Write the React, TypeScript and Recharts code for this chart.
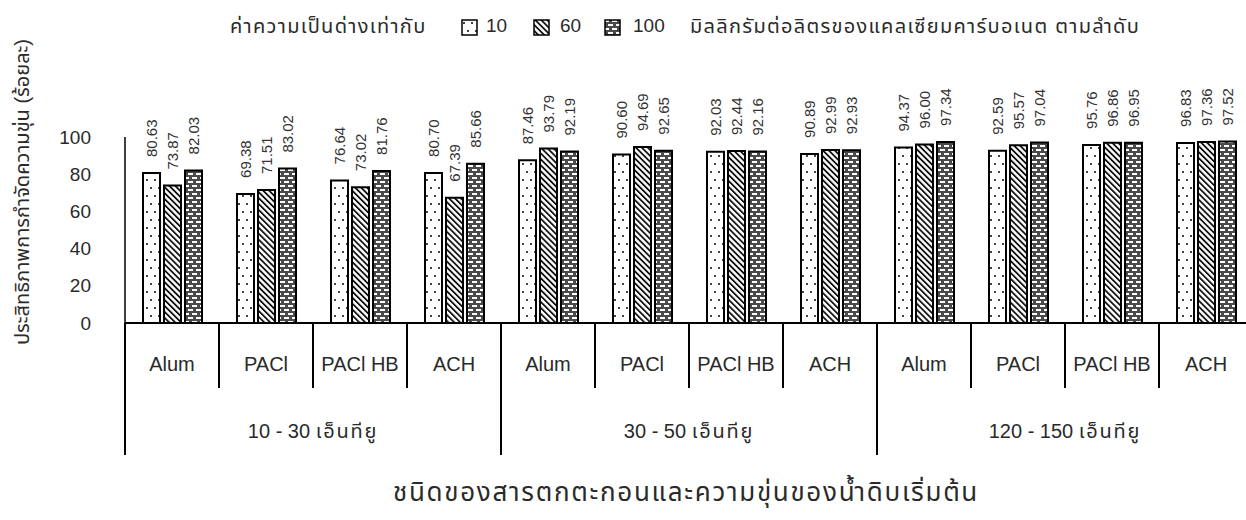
import { BarChart, Bar, XAxis, YAxis, LabelList } from "recharts";

const categories = [
  "Alum", "PACl", "PACl HB", "ACH",
  "Alum", "PACl", "PACl HB", "ACH",
  "Alum", "PACl", "PACl HB", "ACH",
];
const groupRanges = ["10 - 30", "30 - 50", "120 - 150"];
const groupUnit = "เอ็นทียู";
const alk10 = [80.63, 69.38, 76.64, 80.7, 87.46, 90.6, 92.03, 90.89, 94.37, 92.59, 95.76, 96.83];
const alk60 = [73.87, 71.51, 73.02, 67.39, 93.79, 94.69, 92.44, 92.99, 96.0, 95.57, 96.86, 97.36];
const alk100 = [82.03, 83.02, 81.76, 85.66, 92.19, 92.65, 92.16, 92.93, 97.34, 97.04, 96.95, 97.52];
const yTicks = [0, 20, 40, 60, 80, 100];

const data = categories.map((name, i) => ({
  name,
  group: groupRanges[Math.floor(i / 4)],
  a10: alk10[i],
  a60: alk60[i],
  a100: alk100[i],
}));

const FONT = "'Liberation Sans', Arial, 'Noto Sans Thai', sans-serif";
const INK = "#2a2a2a";

function CategoryTick(props: any) {
  const { x, y, payload } = props;
  const half = payload.offset || 47;
  const idx = payload.index ?? props.index;
  const left = x - half;
  const groupStart = idx % 4 === 0;
  return (
    <g>
      <line x1={left} y1={y} x2={left} y2={y + (groupStart ? 132 : 65)} stroke="#000" strokeWidth={2} />
      <text x={x} y={y + 41} textAnchor="middle" dominantBaseline="central" fontSize={20} fill={INK} fontFamily={FONT}>
        {payload.value}
      </text>
      {groupStart && (
        <text x={left + half * 4} y={y + 108} textAnchor="middle" dominantBaseline="central" fontSize={20} fill={INK} fontFamily={FONT}>
          {data[idx].group + " "}
          <tspan letterSpacing={1.8}>{groupUnit}</tspan>
        </text>
      )}
    </g>
  );
}

function ValueTick(props: any) {
  const { x, y, payload } = props;
  return (
    <text x={x} y={y} textAnchor="end" dominantBaseline="central" fontSize={19} fill={INK} fontFamily={FONT}>
      {payload.value}
    </text>
  );
}

function ValueLabel(props: any) {
  const { x, y, width, value } = props;
  const cx = x + width / 2;
  const ty = y - 16;
  return (
    <text x={cx} y={ty} transform={`rotate(-90 ${cx} ${ty})`} dominantBaseline="central" fontSize={15} fill="#333" fontFamily={FONT}>
      {Number(value).toFixed(2)}
    </text>
  );
}

function Swatch({ fill }: { fill: string }) {
  return (
    <svg width={17} height={17} style={{ display: "block" }}>
      <rect x={1} y={1} width={15} height={15} fill={fill} stroke="#000" strokeWidth={1.5} />
    </svg>
  );
}

const legendItems = [
  { label: "10", fill: "url(#pDots)", box: 461, text: 486 },
  { label: "60", fill: "url(#pDiag)", box: 533, text: 560 },
  { label: "100", fill: "url(#pBrick)", box: 604, text: 633 },
];

export default function App() {
  return (
    <div style={{ position: "absolute", left: 0, top: 0, width: 1246, height: 520, overflow: "hidden", background: "#fff", fontFamily: FONT }}>
      <svg width={0} height={0} style={{ position: "absolute" }}>
        <defs>
          <pattern id="pDots" width="8" height="16" patternUnits="userSpaceOnUse">
            <rect width="8" height="16" fill="#fff" />
            <rect x="2" y="3" width="2" height="2" fill="#444" />
            <rect x="6" y="11" width="2" height="2" fill="#444" />
          </pattern>
          <pattern id="pDiag" width="4.2" height="4.2" patternUnits="userSpaceOnUse" patternTransform="rotate(-45)">
            <rect width="4.2" height="4.2" fill="#fff" />
            <rect x="0" y="0" width="1.8" height="4.2" fill="#111" />
          </pattern>
          <pattern id="pBrick" width="8" height="8" patternUnits="userSpaceOnUse">
            <rect width="8" height="8" fill="#4a4a4a" />
            <rect x="0" y="1" width="5" height="2" fill="#fff" />
            <rect x="4" y="5" width="4" height="2" fill="#fff" />
            <rect x="0" y="5" width="1" height="2" fill="#fff" />
          </pattern>
        </defs>
      </svg>

      <div style={{ position: "absolute", top: 0, left: 0, width: 1246, height: 50, fontSize: 19, color: INK }}>
        <span style={{ position: "absolute", left: 230, top: 14, lineHeight: "24px", fontSize: 20, letterSpacing: 1.3 }}>
          ค่าความเป็นด่างเท่ากับ
        </span>
        {legendItems.map((it) => (
          <div key={it.label}>
            <div style={{ position: "absolute", left: it.box, top: 19 }}>
              <Swatch fill={it.fill} />
            </div>
            <span style={{ position: "absolute", left: it.text, top: 14, lineHeight: "24px" }}>{it.label}</span>
          </div>
        ))}
        <span style={{ position: "absolute", left: 690, top: 14, lineHeight: "24px", fontSize: 20, letterSpacing: 1.3 }}>
          มิลลิกรัมต่อลิตรของแคลเซียมคาร์บอเนต ตามลำดับ
        </span>
      </div>

      <BarChart
        width={1260}
        height={520}
        data={data}
        margin={{ top: 137, right: 7, bottom: 47, left: 65 }}
        barSize={17}
        barGap={4}
      >
        <XAxis
          dataKey="name"
          interval={0}
          height={150}
          tickLine={false}
          tickSize={0}
          tickMargin={0}
          axisLine={{ stroke: "#000", strokeWidth: 2 }}
          tick={<CategoryTick />}
          label={{
            content: () => (
              <text x={686} y={492} textAnchor="middle" dominantBaseline="central" fontSize={26} letterSpacing={1.7} fill={INK} fontFamily={FONT}>
                ชนิดของสารตกตะกอนและความขุ่นของน้ำดิบเริ่มต้น
              </text>
            ),
          }}
        />
        <YAxis
          domain={[0, 100]}
          ticks={yTicks}
          width={60}
          tickLine={false}
          tickSize={0}
          tickMargin={34}
          axisLine={{ stroke: "#000", strokeWidth: 1.5 }}
          tick={<ValueTick />}
          label={{
            content: () => (
              <text x={22} y={192} transform="rotate(-90 22 192)" textAnchor="middle" dominantBaseline="central" fontSize={20} fill={INK} fontFamily={FONT}>
                ประสิทธิภาพการกำจัดความขุ่น (ร้อยละ)
              </text>
            ),
          }}
        />
        <Bar dataKey="a10" fill="url(#pDots)" stroke="#000" strokeWidth={2} isAnimationActive={false}>
          <LabelList dataKey="a10" content={<ValueLabel />} />
        </Bar>
        <Bar dataKey="a60" fill="url(#pDiag)" stroke="#000" strokeWidth={2} isAnimationActive={false}>
          <LabelList dataKey="a60" content={<ValueLabel />} />
        </Bar>
        <Bar dataKey="a100" fill="url(#pBrick)" stroke="#000" strokeWidth={2} isAnimationActive={false}>
          <LabelList dataKey="a100" content={<ValueLabel />} />
        </Bar>
      </BarChart>
    </div>
  );
}
